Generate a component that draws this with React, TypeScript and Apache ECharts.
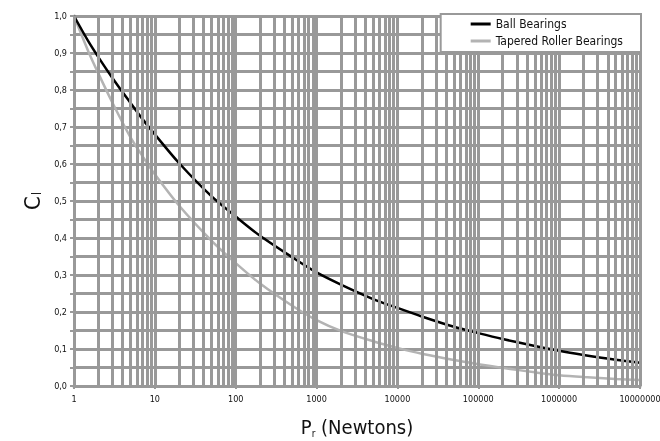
import React, { useEffect, useRef } from "react";
import * as echarts from "echarts";

const loads = [1, 1.5, 2, 3, 5, 7, 10, 20, 50, 100, 200, 500, 1000, 2000, 5000, 10000, 20000, 50000, 100000, 200000, 500000, 1000000, 2000000, 5000000, 10000000];
const ballBearings = [1.0, 0.932, 0.889, 0.832, 0.765, 0.722, 0.68, 0.602, 0.513, 0.458, 0.406, 0.348, 0.307, 0.274, 0.235, 0.211, 0.188, 0.16, 0.143, 0.127, 0.108, 0.095, 0.084, 0.071, 0.063];
const taperedRoller = [1.0, 0.905, 0.845, 0.765, 0.672, 0.622, 0.572, 0.487, 0.393, 0.332, 0.277, 0.217, 0.178, 0.149, 0.121, 0.103, 0.087, 0.07, 0.059, 0.049, 0.037, 0.029, 0.024, 0.019, 0.016];
const decades = [1, 10, 100, 1000, 10000, 100000, 1000000];
const multipliers = [1, 2, 3, 4, 5, 6, 7, 8, 9];
const seriesNames = ["Ball Bearings", "Tapered Roller Bearings"];

const FONT = "'Liberation Sans Narrow', 'DejaVu Sans Condensed', 'Roboto', sans-serif";
const GRID = "#999999";

export default function App() {
  const ref = useRef<HTMLDivElement>(null);
  useEffect(() => {
    if (!ref.current) return;
    const chart = echarts.init(ref.current, undefined, { renderer: "svg" });
    const gridValues: number[] = [];
    decades.forEach((d) => multipliers.forEach((m) => gridValues.push(d * m)));
    gridValues.push(10000000);
    const pairs = (ys: number[]) => loads.map((x, i) => [x, ys[i]]);
    chart.setOption({
      animation: false,
      textStyle: { fontFamily: FONT },
      grid: { left: 74, right: 20, top: 16, bottom: 55, containLabel: false, outerBoundsMode: "none" },
      legend: {
        data: seriesNames,
        orient: "vertical",
        right: 19,
        top: 14,
        backgroundColor: "#ffffff",
        borderColor: GRID,
        borderWidth: 2,
        borderRadius: 0,
        padding: [4, 18, 5, 30],
        itemGap: 5,
        itemWidth: 20,
        itemHeight: 3,
        icon: "rect",
        textStyle: { fontFamily: FONT, fontSize: 12, color: "#111" },
        z: 10,
      },
      xAxis: {
        type: "log",
        logBase: 10,
        min: 1,
        max: 10000000,
        name: "{a|P}{b|r}{a| (Newtons)}",
        nameLocation: "middle",
        nameGap: 31,
        nameTextStyle: {
          rich: {
            a: { fontFamily: FONT, fontSize: 20, lineHeight: 22, color: "#111", verticalAlign: "top" },
            b: { fontFamily: FONT, fontSize: 10, lineHeight: 10, padding: [11, 0, 0, 0], color: "#111", verticalAlign: "top" },
          },
        },
        axisLine: { show: true, lineStyle: { color: GRID, width: 3 } },
        axisTick: { show: true, length: 3, lineStyle: { color: GRID, width: 2 } },
        splitLine: { show: false },
        minorTick: { show: false },
        axisLabel: { fontFamily: FONT, fontSize: 9, color: "#111", margin: 8, formatter: (v: number) => String(Math.round(v)) },
      },
      yAxis: {
        type: "value",
        min: 0,
        max: 1,
        interval: 0.1,
        name: "{a|C}{b|l}",
        nameLocation: "middle",
        nameRotate: 90,
        nameGap: 28,
        nameTextStyle: {
          rich: {
            a: { fontFamily: FONT, fontSize: 22, lineHeight: 22, color: "#111", verticalAlign: "top" },
            b: { fontFamily: FONT, fontSize: 12, lineHeight: 12, padding: [10, 0, 0, 1], color: "#111", verticalAlign: "top" },
          },
        },
        axisLine: { show: true, lineStyle: { color: GRID, width: 3 } },
        axisTick: { show: true, length: 4, lineStyle: { color: GRID, width: 2 } },
        minorTick: { show: true, splitNumber: 2, length: 4, lineStyle: { color: GRID, width: 2 } },
        splitLine: { show: true, lineStyle: { color: GRID, width: 3 } },
        minorSplitLine: { show: true, lineStyle: { color: GRID, width: 3 } },
        axisLabel: {
          fontFamily: FONT,
          fontSize: 9,
          color: "#111",
          margin: 7,
          formatter: (v: number) => v.toFixed(1).replace(".", ","),
        },
      },
      series: [
        {
          name: "grid",
          type: "line",
          data: [],
          z: 1,
          silent: true,
          markLine: {
            silent: true,
            symbol: ["none", "none"],
            label: { show: false },
            emphasis: { disabled: true },
            lineStyle: { color: GRID, width: 3, type: "solid" },
            data: gridValues.map((v) => ({ xAxis: v })),
          },
        },
        {
          name: seriesNames[0],
          type: "line",
          data: pairs(ballBearings),
          smooth: 0.3,
          symbol: "none",
          showSymbol: false,
          z: 4,
          lineStyle: { color: "#000000", width: 2.5 },
          itemStyle: { color: "#000000" },
        },
        {
          name: seriesNames[1],
          type: "line",
          data: pairs(taperedRoller),
          smooth: 0.3,
          symbol: "none",
          showSymbol: false,
          z: 3,
          lineStyle: { color: "#b3b3b3", width: 2.5 },
          itemStyle: { color: "#b3b3b3" },
        },
      ],
    });
    return () => chart.dispose();
  }, []);
  return <div ref={ref} style={{ position: "fixed", left: 0, top: 0, width: 660, height: 441 }} />;
}
